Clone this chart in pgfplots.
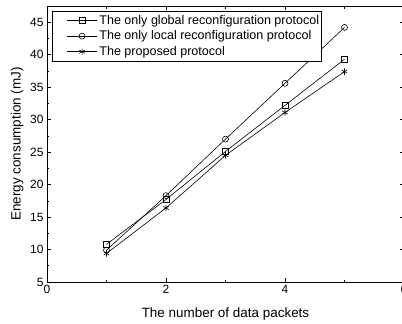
\documentclass[border=0pt]{standalone}
\usepackage{pgfplots}
\pgfplotsset{compat=1.18}
\usepackage{fontspec}
\setmainfont{Liberation Sans}
\begin{document}
\begin{tikzpicture}[x=1bp,y=1bp]
\begin{axis}[
  at={(0,0)}, anchor=south west,
  scale only axis, width=357bp, height=276bp,
  xmin=0, xmax=6, ymin=5, ymax=47.5,
  xtick={0,2,4,6}, ytick={5,10,...,45},
  minor x tick num=1, minor y tick num=1,
  tick align=inside,
  major tick length=4bp, minor tick length=2.5bp,
  axis line style={line width=0.8pt},
  every tick/.style={black, line width=0.6pt},
  tick label style={font=\fontsize{12}{14}\selectfont},
  /pgf/number format/assume math mode=true,
  xlabel={The number of data packets},
  ylabel={Energy consumption (mJ)},
  xlabel style={yshift=-7bp},
  label style={font=\fontsize{13.5}{16}\selectfont},
  legend cell align=left,
  legend style={at={(rel axis cs:0.014,0.982)}, anchor=north west,
    font=\fontsize{12.6}{15}\selectfont, draw=black, line width=0.6pt,
    inner xsep=0.5pt, inner ysep=2pt, row sep=1pt},
  legend image code/.code={\path (0bp,0bp) (44bp,0bp);\draw[mark repeat=2,mark phase=2] plot coordinates {(14bp,0bp) (29bp,0bp) (44bp,0bp)};},
]
\addplot[black, line width=0.6pt, mark=square, mark size=3bp, mark options={solid, fill=white}]
  coordinates {(1,10.8) (2,17.7) (3,25.1) (4,32.2) (5,39.3)};
\addlegendentry{The only global reconfiguration protocol}
\addplot[black, line width=0.6pt, mark=o, mark size=3bp, mark options={solid, fill=white}]
  coordinates {(1,9.9) (2,18.3) (3,27.0) (4,35.6) (5,44.2)};
\addlegendentry{The only local reconfiguration protocol}
\addplot[black, line width=0.6pt, mark=asterisk, mark size=3.2bp, mark options={solid}]
  coordinates {(1,9.4) (2,16.4) (3,24.5) (4,31.1) (5,37.4)};
\addlegendentry{The proposed protocol}
\end{axis}
\pgfresetboundingbox
\path[use as bounding box] (-47,-42) rectangle (355,282);
\end{tikzpicture}
\end{document}
